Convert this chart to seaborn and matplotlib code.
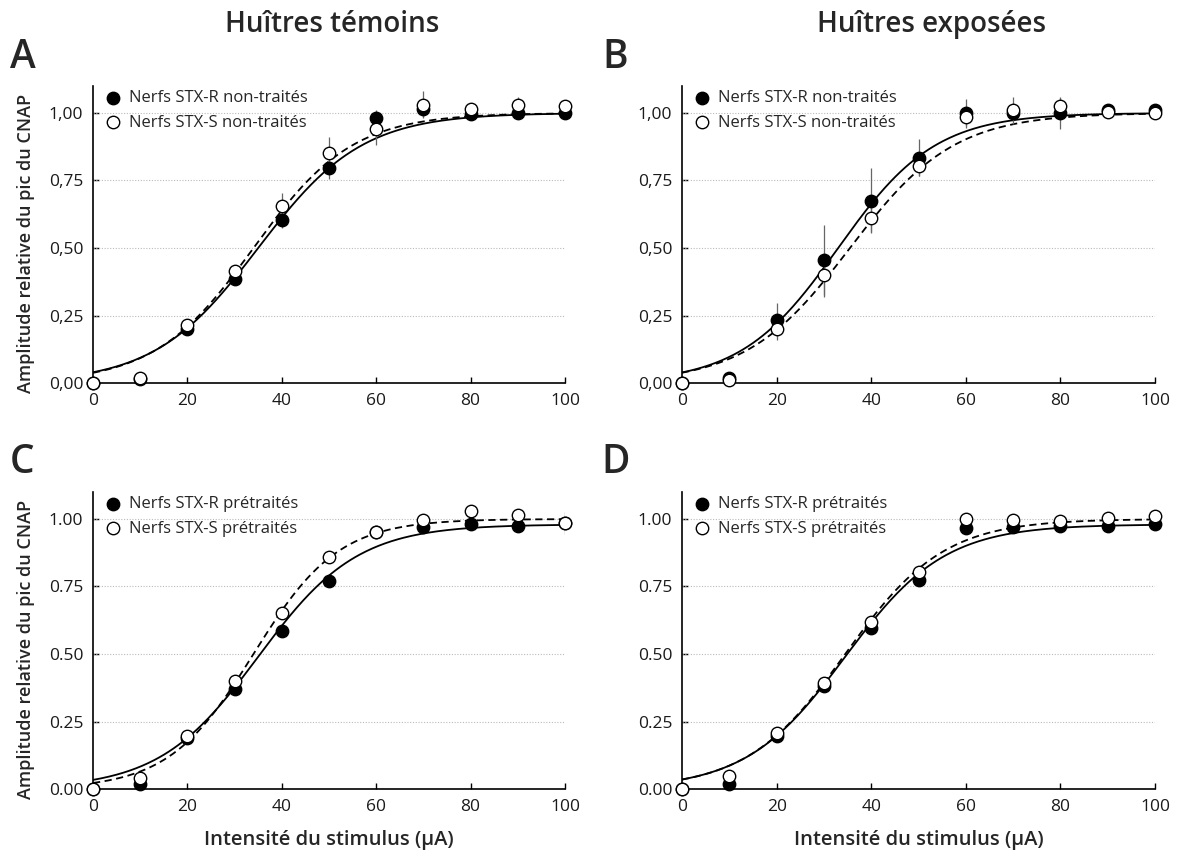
import numpy as np
import pandas as pd
import matplotlib
matplotlib.use('Agg')
import matplotlib.pyplot as plt
import seaborn as sns

# stimulus intensities (uA)
stim = [0, 10, 20, 30, 40, 50, 60, 70, 80, 90, 100]

# panel A - huitres temoins, nerfs non-traites
a_r = [0.00, 0.015, 0.20, 0.385, 0.605, 0.795, 0.98, 1.015, 0.995, 1.00, 1.00]
a_r_err = [0, 0.005, 0.02, 0.02, 0.03, 0.04, 0.03, 0.03, 0.015, 0.02, 0.01]
a_s = [0.00, 0.02, 0.215, 0.415, 0.655, 0.85, 0.94, 1.03, 1.015, 1.03, 1.025]
a_s_err = [0, 0.005, 0.02, 0.02, 0.05, 0.06, 0.06, 0.05, 0.02, 0.03, 0.01]

# panel B - huitres exposees, nerfs non-traites
b_r = [0.00, 0.02, 0.235, 0.455, 0.675, 0.835, 1.00, 1.00, 1.00, 1.01, 1.01]
b_r_err = [0, 0.005, 0.06, 0.13, 0.12, 0.07, 0.05, 0.03, 0.06, 0.02, 0.01]
b_s = [0.00, 0.01, 0.20, 0.40, 0.61, 0.805, 0.985, 1.01, 1.025, 1.005, 1.00]
b_s_err = [0, 0.005, 0.04, 0.08, 0.05, 0.04, 0.04, 0.05, 0.03, 0.02, 0.01]

# panel C - huitres temoins, nerfs pretraites
c_r = [0.00, 0.02, 0.19, 0.37, 0.585, 0.77, 0.95, 0.97, 0.98, 0.975, 0.985]
c_r_err = [0, 0.005, 0.01, 0.015, 0.02, 0.02, 0.01, 0.015, 0.01, 0.01, 0.01]
c_s = [0.00, 0.04, 0.195, 0.40, 0.65, 0.86, 0.95, 0.995, 1.03, 1.015, 0.985]
c_s_err = [0, 0.01, 0.01, 0.015, 0.02, 0.015, 0.01, 0.01, 0.01, 0.01, 0.04]

# panel D - huitres exposees, nerfs pretraites
d_r = [0.00, 0.02, 0.195, 0.38, 0.595, 0.775, 0.965, 0.97, 0.975, 0.975, 0.98]
d_r_err = [0, 0.005, 0.01, 0.015, 0.02, 0.02, 0.015, 0.015, 0.015, 0.015, 0.01]
d_s = [0.00, 0.05, 0.207, 0.393, 0.62, 0.805, 1.00, 0.995, 0.993, 1.005, 1.01]
d_s_err = [0, 0.01, 0.01, 0.015, 0.015, 0.015, 0.01, 0.01, 0.01, 0.01, 0.01]

# boltzmann fit parameters (top, x50, slope)
fit_a_r = (1.00, 35.0, 11.0)
fit_a_s = (1.00, 34.0, 10.5)
fit_b_r = (1.00, 33.0, 10.3)
fit_b_s = (1.00, 35.5, 11.0)
fit_c_r = (0.98, 35.0, 10.5)
fit_c_s = (1.00, 34.0, 9.0)
fit_d_r = (0.98, 34.5, 10.5)
fit_d_s = (1.00, 34.5, 10.4)

col_titles = ['Huîtres témoins', 'Huîtres exposées']
panel_letters = ['A', 'B', 'C', 'D']
labels_top = ['Nerfs STX-R non-traités', 'Nerfs STX-S non-traités']
labels_bottom = ['Nerfs STX-R prétraités', 'Nerfs STX-S prétraités']
yticks = [0, 0.25, 0.5, 0.75, 1.0]
yticklabels_comma = ['0,00', '0,25', '0,50', '0,75', '1,00']
yticklabels_dot = ['0.00', '0.25', '0.50', '0.75', '1.00']
xticks = [0, 20, 40, 60, 80, 100]
ylabel = 'Amplitude relative du pic du CNAP'
xlabel = 'Intensité du stimulus (µA)'

sns.set_theme(style='white')
plt.rcParams['font.family'] = ['Open Sans', 'DejaVu Sans']


def boltz(x, p):
    top, x50, k = p
    return top / (1 + np.exp((x50 - x) / k))


def draw_panel(ax, r, r_err, s, s_err, fit_r, fit_s, labels, ytl):
    xx = np.linspace(0, 100, 300)
    curves = pd.DataFrame({'x': xx, 'R': boltz(xx, fit_r), 'S': boltz(xx, fit_s)})
    sns.lineplot(data=curves, x='x', y='R', ax=ax, color='black', lw=1.3, zorder=2)
    sns.lineplot(data=curves, x='x', y='S', ax=ax, color='black', lw=1.3,
                 zorder=2).lines[-1].set_dashes((4, 2.5))

    ax.errorbar(stim, r, yerr=r_err, fmt='none', ecolor='#666666', elinewidth=0.9, zorder=3)
    ax.errorbar(stim, s, yerr=s_err, fmt='none', ecolor='#666666', elinewidth=0.9, zorder=3)

    df = pd.DataFrame({'stim': stim, 'r': r, 's': s})
    sns.scatterplot(data=df, x='stim', y='r', ax=ax, color='black', edgecolor='black',
                    s=80, linewidth=1.0, zorder=4, clip_on=False, label=labels[0])
    sns.scatterplot(data=df, x='stim', y='s', ax=ax, color='white', edgecolor='black',
                    s=80, linewidth=1.0, zorder=5, clip_on=False, label=labels[1])

    ax.set_xlim(0, 100)
    ax.set_ylim(0, 1.1)
    ax.set_xticks(xticks)
    ax.set_xticklabels([str(t) for t in xticks])
    ax.set_yticks(yticks)
    ax.set_yticklabels(ytl)
    for yv in yticks[1:]:
        ax.axhline(yv, color='#bbbbbb', lw=0.8, ls=(0, (1, 1.5)), zorder=1)
    sns.despine(ax=ax)
    for sp in ['left', 'bottom']:
        ax.spines[sp].set_color('black')
        ax.spines[sp].set_linewidth(1.2)
    ax.tick_params(axis='both', direction='in', length=4, width=1.0, color='black',
                   labelsize=12.5, pad=7, left=True, bottom=True)
    for t in ax.get_xticklabels() + ax.get_yticklabels():
        t.set_color('#1a1a1a')
    ax.set_xlabel('')
    ax.set_ylabel('')
    leg = ax.legend(loc='upper left', bbox_to_anchor=(0.024, 0.985), frameon=False,
                    fontsize=12, handlelength=1.0, handletextpad=0.45,
                    labelspacing=0.5, borderpad=0, borderaxespad=0)
    for h in leg.legend_handles:
        h.set_sizes([80])


fig = plt.figure(figsize=(11.79, 8.58), dpi=100)
ax_a = fig.add_axes([0.0789, 0.5536, 0.4003, 0.3462])
ax_b = fig.add_axes([0.5785, 0.5536, 0.4012, 0.3462])
ax_c = fig.add_axes([0.0789, 0.0804, 0.4003, 0.3462])
ax_d = fig.add_axes([0.5785, 0.0804, 0.4012, 0.3462])

draw_panel(ax_a, a_r, a_r_err, a_s, a_s_err, fit_a_r, fit_a_s, labels_top, yticklabels_comma)
draw_panel(ax_b, b_r, b_r_err, b_s, b_s_err, fit_b_r, fit_b_s, labels_top, yticklabels_comma)
draw_panel(ax_c, c_r, c_r_err, c_s, c_s_err, fit_c_r, fit_c_s, labels_bottom, yticklabels_dot)
draw_panel(ax_d, d_r, d_r_err, d_s, d_s_err, fit_d_r, fit_d_s, labels_bottom, yticklabels_dot)

fig.text(0.282, 0.972, col_titles[0], ha='center', va='center', fontsize=20, fontweight='semibold')
fig.text(0.790, 0.972, col_titles[1], ha='center', va='center', fontsize=20, fontweight='semibold')

for letter, (x, y) in zip(panel_letters, [(0.019, 0.932), (0.522, 0.932), (0.019, 0.460), (0.522, 0.460)]):
    fig.text(x, y, letter, ha='center', va='center', fontsize=28, fontweight='semibold')

fig.text(0.022, 0.716, ylabel, rotation=90, ha='center', va='center', fontsize=13, fontweight='semibold')
fig.text(0.022, 0.243, ylabel, rotation=90, ha='center', va='center', fontsize=13, fontweight='semibold')
fig.text(0.279, 0.021, xlabel, ha='center', va='center', fontsize=14.5, fontweight='semibold')
fig.text(0.779, 0.021, xlabel, ha='center', va='center', fontsize=14.5, fontweight='semibold')

fig.savefig('out.png', dpi=100)
